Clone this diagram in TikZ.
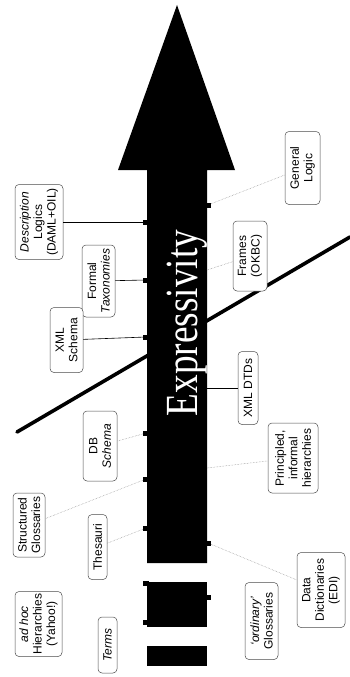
\documentclass[tikz,border=0pt]{standalone}
\usepackage{fontspec}
\setmainfont{Liberation Serif}
\setsansfont{Liberation Sans}

\begin{document}
\begin{tikzpicture}[x=1pt, y=-1pt]
    \tikzstyle{label_node}=[rectangle, draw=black!70, line width=0.5pt, rounded corners=4pt, rotate=90, align=center, inner sep=0pt, fill=white, font=\sffamily\fontsize{12}{13.5}\selectfont];
    \tikzstyle{bump}=[rectangle, fill=black, minimum width=6pt, minimum height=5pt, inner sep=0pt];
    \tikzstyle{link}=[line width=0.6pt];
    \tikzstyle{faint_link}=[black!45, densely dotted, line width=0.5pt];

    \useasboundingbox (0,0) rectangle (350,677);

    % Dividing line
    \draw[line width=3.6pt, line cap=round] (17,432) -- (350,237);

    % Arrow
    \fill (147,563) -- (147,170) -- (118,170) -- (177,5) -- (235,170) -- (207,170) -- (207,563) -- cycle;
    \fill (147,582) rectangle (207,627);
    \fill (147,646) rectangle (207,666);
    \node(expressivity) [rotate=90, anchor=base, text=white, inner sep=0pt] at (197,323) {\scalebox{0.81}[1]{\fontsize{46}{46}\selectfont Expressivity}};

    % Left column
    \node(desc_logics) [label_node, minimum width=75pt, minimum height=48pt] at (39,222) {\textit{Description}\\Logics\\(DAML+OIL)};
    \node(formal_tax) [label_node, minimum width=72pt, minimum height=33pt] at (98.5,281) {Formal\\\textit{Taxonomies}};
    \node(xml_schema) [label_node, minimum width=65pt, minimum height=33pt] at (66.5,340) {XML\\Schema};
    \node(db_schema) [label_node, minimum width=70pt, minimum height=34pt] at (100,446) {DB\\\textit{Schema}};
    \node(struct_gloss) [label_node, minimum width=64pt, minimum height=32pt] at (29,525) {Structured\\Glossaries};
    \node(thesauri) [label_node, minimum width=65pt, minimum height=19pt] at (97.5,547) {Thesauri};
    \node(adhoc_hier) [label_node, minimum width=65pt, minimum height=47pt] at (38.5,624) {\textit{ad hoc}\\Hierarchies\\(Yahoo!)};
    \node(terms) [label_node, minimum width=56pt, minimum height=19pt] at (107.5,645) {\textit{Terms}};

    % Right column
    \node(general_logic) [label_node, minimum width=73pt, minimum height=35pt] at (302.5,168) {General\\Logic};
    \node(frames) [label_node, minimum width=70pt, minimum height=34pt] at (250,256) {Frames\\(OKBC)};
    \node(xml_dtds) [label_node, minimum width=73pt, minimum height=20pt] at (248,388) {XML DTDs};
    \node(principled) [label_node, minimum width=70pt, minimum height=50pt] at (293,458) {Principled,\\informal\\hierarchies};
    \node(data_dict) [label_node, minimum width=75pt, minimum height=48pt] at (321,590) {Data\\Dictionaries\\(EDI)};
    \node(ord_gloss) [label_node, minimum width=77pt, minimum height=33pt] at (261.5,621) {\textit{`ordinary'}\\Glossaries};

    % Bumps on the arrow
    \node(b_dl) [bump] at (146,222) {};
    \node(b_ft) [bump] at (146,280) {};
    \node(b_xs) [bump] at (146,337) {};
    \node(b_db) [bump] at (146,433) {};
    \node(b_sg) [bump] at (146,479) {};
    \node(b_th) [bump] at (146,528) {};
    \node(b_ah) [bump] at (146,583) {};
    \node(b_te) [bump] at (146,622) {};
    \node(b_gl) [bump] at (208,205) {};
    \node(b_dd) [bump] at (208,543) {};
    \node(b_og) [bump] at (208,597) {};
    \coordinate(c_fr) at (207,270);
    \coordinate(c_dtd) at (207,388);
    \coordinate(c_pi) at (207,468);

    % Connectors
    \draw[link] (b_dl) -- (desc_logics);
    \draw[link] (b_ft) -- (formal_tax);
    \draw[link] (b_xs) -- (xml_schema);
    \draw[link] (c_dtd) -- (xml_dtds);
    \draw[faint_link] (b_db) -- (db_schema);
    \draw[faint_link] (b_sg) -- (struct_gloss);
    \draw[faint_link] (b_th) -- (thesauri);
    \draw[faint_link] (b_gl) -- (general_logic);
    \draw[faint_link] (c_fr) -- (frames);
    \draw[faint_link] (c_pi) -- (principled);
    \draw[faint_link] (b_dd) -- (data_dict);
\end{tikzpicture}
\end{document}
